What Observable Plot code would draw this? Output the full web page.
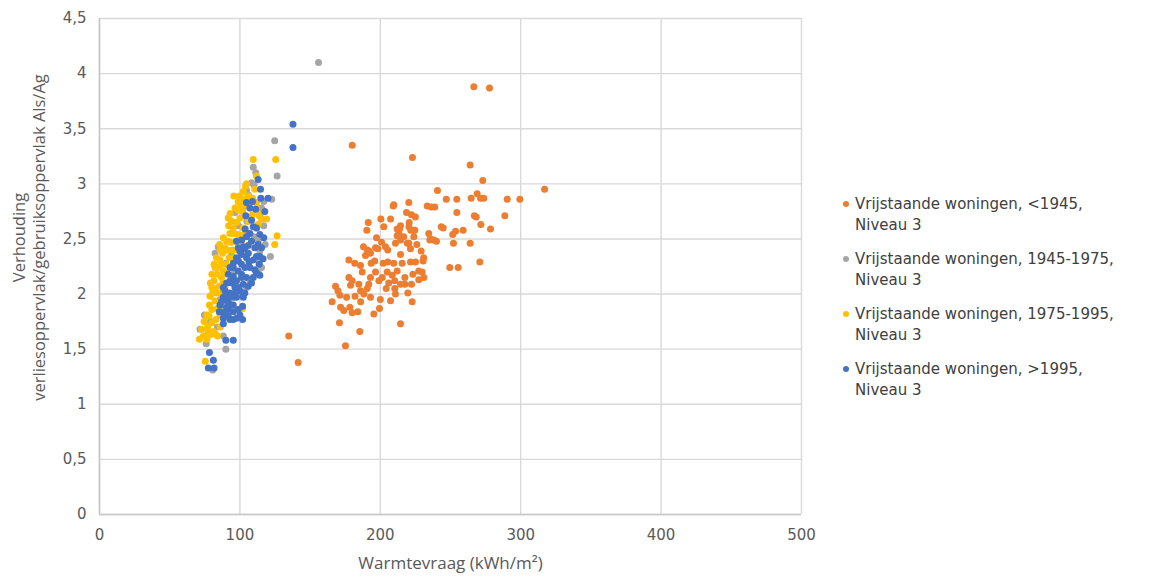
<!DOCTYPE html>
<html>
<head>
<meta charset="utf-8">
<script src="https://cdn.jsdelivr.net/npm/d3@7"></script>
<script src="https://cdn.jsdelivr.net/npm/@observablehq/plot@0.6"></script>
<style>
  html, body { margin: 0; padding: 0; background: #fff; }
  #wrap { position: relative; width: 1169px; height: 577px; }
  .leg { position: absolute; left: 840px; font-family: "DejaVu Sans", Verdana, sans-serif; font-size: 15px; line-height: 21px; color: #404040; padding-left: 15px; white-space: nowrap; }
  .leg i { position: absolute; left: 3px; top: 7px; width: 6px; height: 6px; border-radius: 50%; }
</style>
</head>
<body>
<div id="wrap"></div>
<script>
// ---- tick labels / axes ----
const xTicks = [0, 100, 200, 300, 400, 500];
const yTicks = [0, 0.5, 1, 1.5, 2, 2.5, 3, 3.5, 4, 4.5];
const xTitle = "Warmtevraag (kWh/m²)";
const yTitle = "Verhouding\nverliesoppervlak/gebruiksoppervlak Als/Ag";

// ---- series names and colours ----
const seriesNames = [
  "Vrijstaande woningen, <1945, Niveau 3",
  "Vrijstaande woningen, 1945-1975, Niveau 3",
  "Vrijstaande woningen, 1975-1995, Niveau 3",
  "Vrijstaande woningen, >1995, Niveau 3"
];
const legendLines = [
  ["Vrijstaande woningen, <1945,", "Niveau 3"],
  ["Vrijstaande woningen, 1945-1975,", "Niveau 3"],
  ["Vrijstaande woningen, 1975-1995,", "Niveau 3"],
  ["Vrijstaande woningen, >1995,", "Niveau 3"]
];
const seriesColors = ["#ED7D31", "#A5A5A5", "#FFC000", "#4472C4"];

// ---- data: [warmtevraag, Als/Ag] ----
const pre1945 = [
  [266.6,3.88],[277.8,3.87],[180,3.35],[222.9,3.24],[264,3.17],[273,3.03],[240.7,2.94],[317,2.95],
  [269,2.91],[264.7,2.87],[271.4,2.87],[273.7,2.87],[247,2.86],[254.5,2.86],[290.4,2.86],[299.4,2.86],
  [209.6,2.81],[220.3,2.83],[233.4,2.80],[236.2,2.79],[238.8,2.79],[254.5,2.74],[218.7,2.74],[222.2,2.72],
  [225,2.70],[267,2.71],[268.3,2.70],[288.7,2.71],[200.4,2.68],[207.3,2.68],[191.4,2.65],[220.6,2.65],
  [271.6,2.63],[202.5,2.61],[213.7,2.59],[221.7,2.58],[243.4,2.61],[244.8,2.60],[190.4,2.58],[278.5,2.59],
  [259,2.58],[253.6,2.57],[251.6,2.54],[224.6,2.58],[234.5,2.55],[197.3,2.51],[212,2.53],[214.4,2.49],
  [235.3,2.49],[240,2.48],[252.1,2.46],[264,2.46],[200.9,2.47],[203.7,2.43],[190.7,2.40],[193,2.37],
  [198.2,2.41],[205.3,2.40],[219.2,2.46],[221.5,2.41],[229.1,2.39],[214.4,2.36],[177.6,2.31],[270.9,2.29],
  [249.5,2.24],[255.5,2.24],[230.5,2.30],[181.8,2.28],[185.9,2.26],[187.1,2.20],[193.5,2.28],[189.5,2.35],
  [191.8,2.39],[196.6,2.42],[202.1,2.28],[205.3,2.29],[209.6,2.28],[215.6,2.28],[221.5,2.29],[225.1,2.29],
  [212,2.21],[208.5,2.17],[210.3,2.12],[204.9,2.20],[201.4,2.15],[196.6,2.20],[193,2.15],[191.8,2.09],
  [190.7,2.05],[188.3,2.00],[193,1.97],[184.7,2.09],[185.9,2.03],[177.6,2.15],[180,2.12],[178.8,2.08],
  [168.1,2.07],[169.8,2.03],[171.2,1.99],[165.7,1.93],[171.7,1.88],[174,1.85],[178.3,1.88],[180,1.83],
  [184,1.84],[170.9,1.74],[185.4,1.66],[175.2,1.53],[195.4,1.82],[199.4,1.87],[204.2,2.05],[207.3,1.94],
  [210.3,2.05],[210.8,2.00],[214.4,1.73],[222.7,1.93],[222.2,2.09],[223.2,2.18],[227.4,2.21],[231,2.15],
  [227.4,2.13],[229.8,2.20],[217.5,2.15],[217.5,2.09],[214.4,2.09],[219.6,2.01],[134.8,1.62],[141.5,1.38],
  [212,2.59],[214.4,2.62],[213.2,2.55],[216.7,2.52],[210.8,2.46],[220.4,2.61],[223.9,2.58],[223.9,2.52],
  [220.3,2.46],[235.7,2.50],[238.1,2.49],[230.9,2.33],[209.2,2.80],[196,2.30],[199,2.12],[206,2.10],
  [186,1.93],[176,1.97],[182,1.98],[200,1.95],[188,2.43],[226,2.45]
];
const y1945_1975 = [
  [156,4.10],[124.8,3.39],[126.5,3.07],[109.5,3.15],[111.3,3.10],[108.3,3.01],[104.7,2.94],[110.1,2.99],
  [97.6,2.78],[100,2.84],[117,2.84],[115.4,2.78],[122.7,2.86],[121.7,2.34],[115.4,2.24],[114.2,2.30],
  [84.6,2.43],[82.3,2.37],[88.2,1.62],[90,1.50],[74.7,1.81],[71.6,1.68],[80.6,1.31],[114.2,2.39],
  [113,2.48],[107.1,2.12],[104.7,2.06],[87.7,1.87],[96.5,2.74],[103.5,2.55],[106,2.90],[102,2.79],
  [112,2.60],[118,2.45],[92,2.00],[86,1.95],[79,1.75],[94,2.35],[108,2.70],[113,2.20],[76,1.55],
  [99,2.62],[105,2.66],[96,2.20],[90,2.28],[84,1.70],[110,2.52],[117,2.62]
];
const y1975_1995 = [
  [109.5,3.22],[125.5,3.22],[111.8,3.07],[104.7,3.00],[95.7,2.89],[100,2.89],[109,2.87],[93,2.73],
  [119,2.68],[126.5,2.53],[124.8,2.45],[88.2,2.51],[81.6,2.27],[80,2.06],[78.7,1.98],[78.3,1.90],
  [80,1.86],[76.4,1.81],[74.5,1.75],[72.8,1.68],[77.5,1.66],[81,1.66],[71.2,1.59],[76.4,1.59],
  [78.7,1.63],[75.4,1.39],[82.3,1.64],[81.6,2.12],[83.5,2.18],[84.6,2.24],[85.8,2.31],[87.7,2.37],
  [89.4,2.42],[91.7,2.48],[92.9,2.55],[95.3,2.60],[97.6,2.65],[100,2.69],[101.9,2.75],[103.5,2.81],
  [101.2,2.84],[104.7,2.87],[108.3,2.84],[111.8,2.78],[113.7,2.71],[109,2.72],[106,2.66],[102.4,2.60],
  [98.8,2.54],[97.2,2.48],[94.8,2.40],[92.4,2.33],[90,2.27],[88.2,2.21],[86.9,2.15],[85.3,2.07],
  [83.5,2.01],[82.3,1.94],[84,1.87],[85.8,1.81],[83,1.77],[80,1.74],[83.3,2.33],[82.3,2.24],
  [85.6,2.45],[90.5,2.48],[94.1,2.66],[91.7,2.69],[96.5,2.78],[98.8,2.84],[102.4,2.93],[106,2.89],
  [110.6,2.95],[111.8,2.83],[114.2,2.72],[113,2.63],[117,2.75],[115.4,2.68],[86.9,2.01],[89.4,2.06],
  [80,2.18],[80.6,2.01],[90.5,2.19],[95.3,2.33],[97.6,2.40],[101.2,2.48],[103.5,2.54],[101.9,1.87],
  [86,1.70],[84,1.62],[79,2.10],[82,2.05],[87,2.27],[91,2.40],[93.5,2.47],[96,2.55],[99,2.76],
  [104,2.98],[107,2.78],[100,2.80],[78,1.80],[74,1.62],[77,1.70],[88,2.10],[86,2.40],[92,2.62]
];
const post1995 = [
  [137.8,3.54],[137.8,3.33],[113,3.04],[114.7,2.95],[114.9,2.87],[120,2.87],[109,2.84],[117.7,2.75],
  [111.3,2.77],[104.7,2.83],[107.1,2.78],[109.5,2.61],[111.8,2.60],[114.2,2.54],[107.1,2.55],[104.7,2.52],
  [101.2,2.49],[97.6,2.48],[98.8,2.42],[102.4,2.43],[108.3,2.48],[113,2.45],[114.2,2.34],[113.7,2.27],
  [111.8,2.19],[109.5,2.15],[107.1,2.24],[104.7,2.33],[101.2,2.36],[97.6,2.33],[95.3,2.28],[92.9,2.24],
  [91.7,2.18],[90.5,2.10],[89.4,2.03],[88.2,1.97],[85.8,1.90],[85.3,1.84],[88.2,1.83],[91.7,1.86],
  [95.3,1.90],[97.6,1.97],[100,2.03],[102.4,2.09],[104.7,2.15],[101.2,2.18],[98.8,2.21],[95.3,2.16],
  [94.1,2.10],[96.5,2.06],[92.9,2.01],[91.7,1.93],[95.3,1.84],[98.8,1.86],[101.9,1.89],[102.4,1.97],
  [103.5,2.01],[105.9,2.07],[108.3,2.10],[110.6,2.22],[101.2,2.27],[97.6,2.12],[95.3,2.24],[100,2.39],
  [103.5,2.41],[105.9,2.44],[110.6,2.42],[111.8,2.34],[109.5,2.31],[106.5,2.29],[103.5,2.24],[101.2,2.15],
  [98.8,2.06],[95.3,1.97],[90.5,1.88],[88.2,1.78],[92.9,1.77],[95.3,1.77],[101.9,1.77],[88.2,1.73],
  [91.7,1.80],[90,1.58],[95.3,1.58],[78.3,1.47],[81.1,1.40],[77.5,1.33],[81.6,1.33],[103.8,2.59],
  [108.3,2.67],[104.2,2.71],[114.2,2.17],[116.5,2.32],[115.4,2.42],[117,2.51],[88.2,2.06],[87,1.93],
  [91,1.97],[94.1,1.90],[97.6,1.78],[100,1.81],[99,2.30],[102,2.00],[106,2.37],[93,2.12],[97,2.02]
];

const seriesData = [pre1945, y1945_1975, y1975_1995, post1995];
const points = seriesData.flatMap((arr, i) =>
  arr.map(([x, y]) => ({x, y, series: seriesNames[i]}))
);

const chart = Plot.plot({
  width: 1169,
  height: 577,
  marginLeft: 99,
  marginRight: 368,
  marginTop: 18,
  marginBottom: 63,
  style: {fontFamily: "'DejaVu Sans', Verdana, sans-serif", fontSize: "15px", color: "#595959", background: "#fff", overflow: "visible"},
  x: {domain: [0, 500]},
  y: {domain: [0, 4.5]},
  color: {domain: seriesNames, range: seriesColors},
  marks: [
    Plot.ruleX(xTicks, {stroke: "#d9d9d9", strokeWidth: 1.4}),
    Plot.ruleY(yTicks, {stroke: "#d9d9d9", strokeWidth: 1.4}),
    Plot.ruleX([0], {stroke: "#c8c8c8", strokeWidth: 1.6}),
    Plot.ruleY([0], {stroke: "#c8c8c8", strokeWidth: 1.6}),
    Plot.axisX({ticks: xTicks, tickSize: 0, tickPadding: 15, label: null, tickFormat: d => String(d), fontSize: 15}),
    Plot.axisY({ticks: yTicks, tickSize: 0, tickPadding: 13, label: null, tickFormat: d => String(d).replace(".", ","), fontSize: 15}),
    Plot.dot(points, {x: "x", y: "y", fill: "series", r: 3.5, stroke: null}),
    Plot.text([xTitle], {frameAnchor: "bottom", dy: 49, text: d => d, textAnchor: "middle", lineAnchor: "middle", fontSize: 17, fontFamily: "'Open Sans', sans-serif", fill: "#595959"}),
    Plot.text([yTitle], {frameAnchor: "left", dx: -71, dy: -29, rotate: -90, text: d => d, textAnchor: "middle", lineAnchor: "middle", lineHeight: 1.2, fontSize: 16.5, fontFamily: "'Open Sans', sans-serif", fill: "#595959"})
  ]
});

const wrap = document.getElementById("wrap");
wrap.appendChild(chart);
legendLines.forEach((lines, i) => {
  const div = document.createElement("div");
  div.className = "leg";
  div.style.top = (194 + i * 55) + "px";
  div.innerHTML = `<i style="background:${seriesColors[i]}"></i>` + lines.map(l => l.replace(/</g, "&lt;").replace(/>/g, "&gt;")).join("<br>");
  wrap.appendChild(div);
});
</script>
</body>
</html>
